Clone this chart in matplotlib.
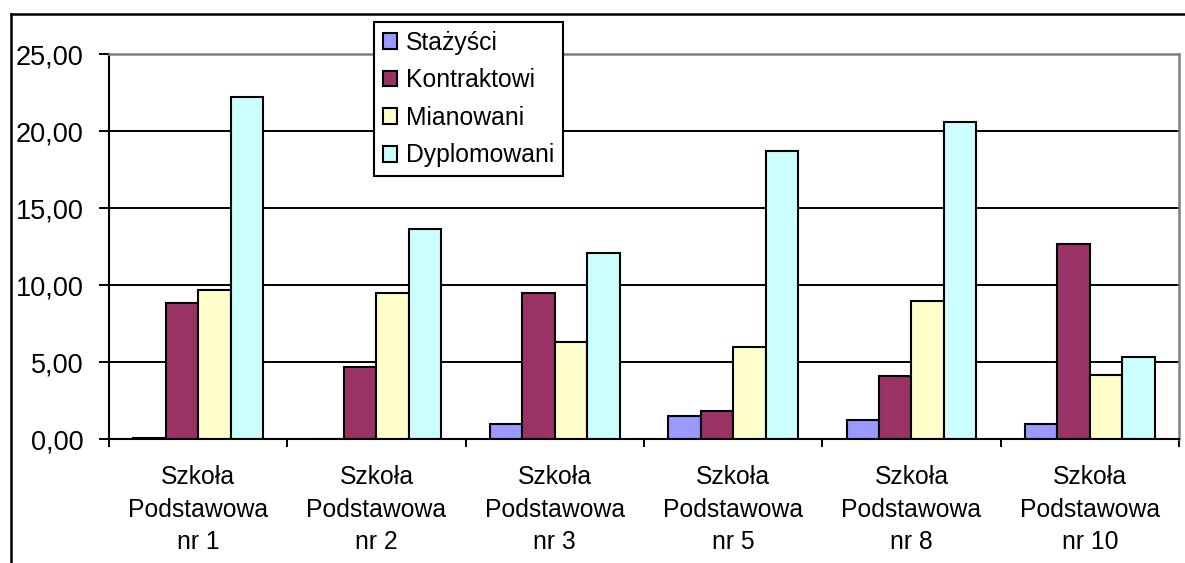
import numpy as np
import matplotlib.pyplot as plt
from matplotlib.lines import Line2D

plt.rcParams['font.family'] = ['Liberation Sans', 'DejaVu Sans']

# Schools and the share of teachers per promotion grade
schools = ['Szkoła\nPodstawowa\nnr 1', 'Szkoła\nPodstawowa\nnr 2', 'Szkoła\nPodstawowa\nnr 3',
           'Szkoła\nPodstawowa\nnr 5', 'Szkoła\nPodstawowa\nnr 8', 'Szkoła\nPodstawowa\nnr 10']
stazysci = [0.10, 0.00, 0.99, 1.49, 1.23, 1.01]
kontraktowi = [8.87, 4.71, 9.48, 1.84, 4.13, 12.70]
mianowani = [9.70, 9.48, 6.34, 5.99, 9.00, 4.15]
dyplomowani = [22.20, 13.64, 12.12, 18.74, 20.58, 5.32]

series = [stazysci, kontraktowi, mianowani, dyplomowani]
names = ['Stażyści', 'Kontraktowi', 'Mianowani', 'Dyplomowani']
colors = ['#9999FF', '#993366', '#FFFFCC', '#CCFFFF']

W, H = 1185, 563
fig = plt.figure(figsize=(W / 100, H / 100), dpi=100)
ax = fig.add_axes([109 / W, (H - 439.3) / H, (1179 - 109) / W, (439.3 - 54.3) / H])

x = np.arange(len(schools))
bw = 1 / 5.5
for i, (vals, name, c) in enumerate(zip(series, names, colors)):
    ax.bar(x + (i - 1.5) * bw, vals, width=bw, color=c, edgecolor='black',
           linewidth=1.5, label=name, zorder=3)

ax.set_xlim(-0.5, len(schools) - 0.5)
ax.set_ylim(0, 25)
yt = np.arange(0, 26, 5)
ax.set_yticks(yt)
ax.set_yticklabels([f'{v:.2f}'.replace('.', ',') for v in yt], fontsize=19.5)
ax.tick_params(axis='y', length=7.2, width=1.4, pad=11, color='black')

# category boundaries carry the ticks, centres carry the labels
ax.set_xticks(np.arange(-0.5, len(schools), 1))
ax.set_xticklabels([])
ax.set_xticks(x, minor=True)
ax.set_xticklabels(schools, minor=True, fontsize=17.8, linespacing=1.45)
ax.tick_params(axis='x', which='major', length=5.5, width=1.4, direction='out')
ax.tick_params(axis='x', which='minor', length=0, pad=18.5)

for v in yt[1:-1]:
    ax.axhline(v, color='black', linewidth=1.4, zorder=1)

ax.spines['left'].set_linewidth(1.5)
ax.spines['bottom'].set_linewidth(1.5)
ax.spines['bottom'].set_zorder(4)
for s in ('top', 'right'):
    ax.spines[s].set_color('#808080')
    ax.spines[s].set_linewidth(1.8)

leg = ax.legend(loc='upper left', bbox_to_anchor=(374 / W, (H - 22) / H),
                bbox_transform=fig.transFigure, fontsize=17.8, frameon=True,
                fancybox=False, edgecolor='black', framealpha=1,
                handlelength=0.6, handleheight=0.6, handletextpad=0.35,
                labelspacing=0.55, borderpad=0.35, borderaxespad=0)
leg.get_frame().set_linewidth(1.5)
leg.set_zorder(5)

# outer chart border
fig.add_artist(Line2D([10.5 / W, 10.5 / W], [0, (H - 14) / H], color='black', linewidth=1.8))
fig.add_artist(Line2D([10.5 / W, 1], [(H - 14) / H, (H - 14) / H], color='black', linewidth=1.8))

fig.savefig('out.png', dpi=100)
